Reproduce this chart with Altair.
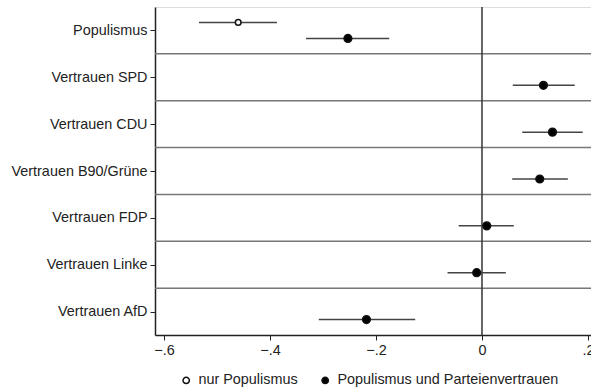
import altair as alt
import pandas as pd
import json

labels = ["Populismus", "Vertrauen SPD", "Vertrauen CDU", "Vertrauen B90/Grüne",
          "Vertrauen FDP", "Vertrauen Linke", "Vertrauen AfD"]
series_names = ["nur Populismus", "Populismus und Parteienvertrauen"]

# nur Populismus (only first row)
only_label = ["Populismus"]
only_coef = [-0.460]
only_lo = [-0.534]
only_hi = [-0.387]

# Populismus und Parteienvertrauen
full_coef = [-0.253, 0.116, 0.133, 0.109, 0.009, -0.010, -0.218]
full_lo = [-0.332, 0.058, 0.076, 0.057, -0.044, -0.065, -0.308]
full_hi = [-0.175, 0.175, 0.190, 0.162, 0.060, 0.045, -0.126]

rows = []
for l, c, lo, hi in zip(only_label, only_coef, only_lo, only_hi):
    rows.append(dict(label=l, idx=labels.index(l), series=series_names[0], coef=c, lo=lo, hi=hi))
for l, c, lo, hi in zip(labels, full_coef, full_lo, full_hi):
    rows.append(dict(label=l, idx=labels.index(l), series=series_names[1], coef=c, lo=lo, hi=hi))
df = pd.DataFrame(rows)

sep = pd.DataFrame({"pos": [i + 0.5 for i in range(len(labels) - 1)]})
zero = pd.DataFrame({"x": [0.0]})

FONT = "Liberation Sans"
FS = 14.4
xdom = [-0.617, 0.2057]
yscale = alt.Scale(domain=[-0.5, len(labels) - 0.5], reverse=True, nice=False, zero=False)
xscale = alt.Scale(domain=xdom, nice=False, zero=False)

label_expr = json.dumps(labels) + "[datum.value]"

xaxis = alt.Axis(values=[-0.6, -0.4, -0.2, 0, 0.2], title=None, grid=False,
                 labelExpr="datum.value == 0 ? '0' : replace(format(datum.value, '.1f'), '0.', '.')",
                 tickSize=5, tickColor="#222", domainColor="#222", domainWidth=1.5,
                 labelFont=FONT, labelFontSize=FS, labelColor="#222", labelPadding=3,
                 labelFlush=False, labelOverlap=False)
yaxis = alt.Axis(values=list(range(len(labels))), title=None, grid=False,
                 labelExpr=label_expr, tickSize=5, tickColor="#222", domainColor="#222",
                 domainWidth=1.5, labelFont=FONT, labelFontSize=FS, labelColor="#222",
                 labelPadding=3, labelLimit=0)

base_sep = alt.Chart(sep).mark_rule(color="#777", strokeWidth=1.5).encode(
    y=alt.Y("pos:Q", scale=yscale, axis=yaxis)
)
zero_line = alt.Chart(zero).mark_rule(color="#333", strokeWidth=1.5).encode(
    x=alt.X("x:Q", scale=xscale, axis=xaxis)
)

fill_scale = alt.Scale(domain=series_names, range=["white", "black"])

def layer_for(series, off, size):
    d = df[df["series"] == series]
    ci = alt.Chart(d).mark_rule(color="#444", strokeWidth=1.5, yOffset=off).encode(
        x=alt.X("lo:Q", scale=xscale, axis=xaxis),
        x2="hi:Q",
        y=alt.Y("idx:Q", scale=yscale, axis=yaxis),
    )
    pt = alt.Chart(d).mark_point(shape="circle", size=size, stroke="#111", strokeWidth=1.5,
                                 opacity=1, filled=False, yOffset=off).encode(
        x=alt.X("coef:Q", scale=xscale, axis=xaxis),
        y=alt.Y("idx:Q", scale=yscale, axis=yaxis),
        fill=alt.Fill("series:N", scale=fill_scale,
                      legend=alt.Legend(title=None, orient="none", direction="horizontal",
                                        legendX=24, legendY=366, symbolType="circle",
                                        symbolStrokeColor="#111", symbolStrokeWidth=1.5,
                                        symbolSize=40, labelFont=FONT, labelFontSize=FS,
                                        labelColor="#222", columnPadding=20, labelOffset=5,
                                        labelLimit=0, symbolOffset=0)),
    )
    return ci + pt

chart = alt.layer(
    base_sep,
    zero_line,
    layer_for(series_names[0], -8, 32),
    layer_for(series_names[1], 8, 60),
).properties(
    width=436, height=328,
    autosize=alt.AutoSizeParams(type="none"),
    padding={"left": 155, "top": 7, "right": 0, "bottom": 57},
).configure_view(stroke="#222", strokeWidth=1.5).configure(background="white")

chart.save("out.html", embed_options={"renderer": "svg", "actions": False})
